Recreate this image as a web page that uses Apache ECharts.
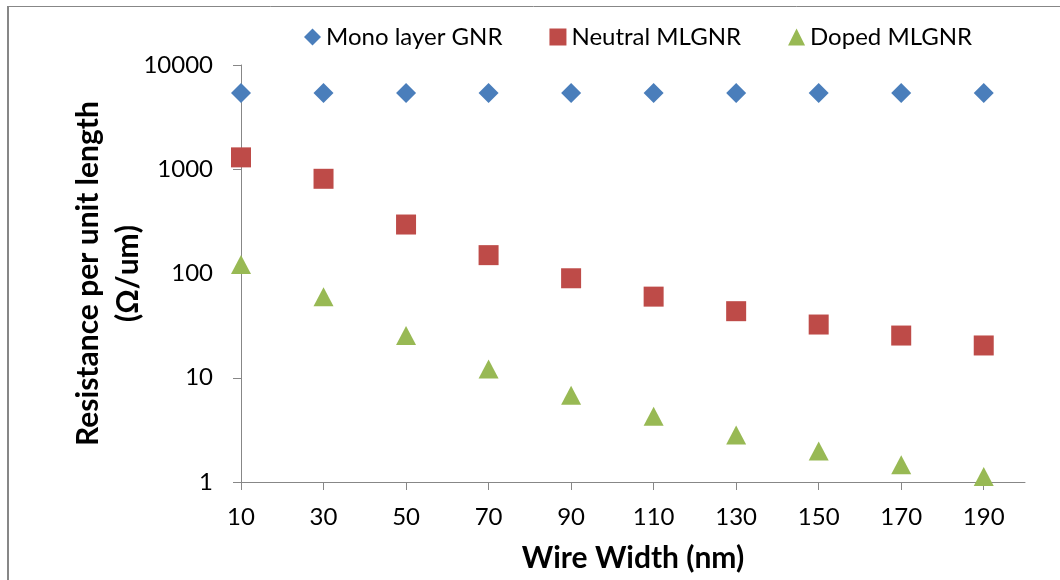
<!DOCTYPE html>
<html>
<head>
<meta charset="utf-8">
<script src="https://cdn.jsdelivr.net/npm/echarts@6/dist/echarts.min.js"></script>
<style>
  html, body { margin: 0; padding: 0; background: #fff; }
  #chart { width: 1060px; height: 580px; }
</style>
</head>
<body>
<div id="chart"></div>
<script>
// Wire widths (nm) and resistance per unit length (Ω/um) for each interconnect type
const widths = [10, 30, 50, 70, 90, 110, 130, 150, 170, 190];
const monoLayerGNR = [5400, 5400, 5400, 5400, 5400, 5400, 5400, 5400, 5400, 5400];
const neutralMLGNR = [1300, 810, 295, 150, 90, 60, 43.5, 32.4, 25.4, 20.4];
const dopedMLGNR = [122, 60, 25.4, 12.1, 6.8, 4.27, 2.82, 1.98, 1.46, 1.13];
const seriesNames = ['Mono layer GNR', 'Neutral MLGNR', 'Doped MLGNR'];
const xTitle = 'Wire Width (nm)';
const yTitle = 'Resistance per unit length\n(Ω/um)';

const FONT = 'Lato';
const AXIS_GREY = '#878787';

const pairs = (ys) => widths.map((w, i) => [w, ys[i]]);

const chart = echarts.init(document.getElementById('chart'), null, { renderer: 'canvas' });

chart.setOption({
  backgroundColor: '#ffffff',
  animation: false,
  textStyle: { fontFamily: FONT },
  graphic: [
    // frame edges along the top and left
    { type: 'line', shape: { x1: 7, y1: 6.5, x2: 1060, y2: 6.5 }, style: { stroke: AXIS_GREY, lineWidth: 1 } },
    { type: 'line', shape: { x1: 8, y1: 6, x2: 8, y2: 580 }, style: { stroke: AXIS_GREY, lineWidth: 2 } }
  ],
  legend: {
    top: 25,
    left: 304,
    padding: 0,
    itemWidth: 17,
    itemHeight: 17,
    itemGap: 47,
    textStyle: { fontFamily: FONT, fontSize: 24, color: '#000' },
    data: seriesNames
  },
  grid: { left: 241, right: 35, top: 65, bottom: 98, containLabel: false },
  xAxis: {
    type: 'value',
    min: 10,
    max: 200,
    name: xTitle,
    nameLocation: 'middle',
    nameGap: 61,
    nameMoveOverlap: false,
    nameTextStyle: { fontFamily: FONT, fontSize: 30, fontWeight: 'bold', color: '#000' },
    axisLine: { lineStyle: { color: AXIS_GREY, width: 1 } },
    axisTick: { show: true, inside: false, length: 8, lineStyle: { color: AXIS_GREY }, customValues: widths },
    axisLabel: { fontFamily: FONT, fontSize: 24, color: '#000', margin: 23, customValues: widths },
    splitLine: { show: false }
  },
  yAxis: {
    type: 'log',
    logBase: 10,
    min: 1,
    max: 10000,
    name: yTitle,
    nameLocation: 'middle',
    nameGap: 93,
    nameMoveOverlap: false,
    nameRotate: 90,
    nameTextStyle: { fontFamily: FONT, fontSize: 30, fontWeight: 'bold', color: '#000', lineHeight: 40 },
    axisLine: { show: true, lineStyle: { color: AXIS_GREY, width: 1 } },
    axisTick: { show: true, inside: false, length: 8, lineStyle: { color: AXIS_GREY } },
    axisLabel: { fontFamily: FONT, fontSize: 24, color: '#000', margin: 28, formatter: (v) => String(v) },
    splitLine: { show: false }
  },
  series: [
    {
      name: seriesNames[0],
      type: 'scatter',
      symbol: 'diamond',
      symbolSize: 20,
      itemStyle: { color: '#4A7EBB', opacity: 1 },
      data: pairs(monoLayerGNR)
    },
    {
      name: seriesNames[1],
      type: 'scatter',
      symbol: 'rect',
      symbolSize: 20,
      itemStyle: { color: '#BE4B48', opacity: 1 },
      data: pairs(neutralMLGNR)
    },
    {
      name: seriesNames[2],
      type: 'scatter',
      symbol: 'triangle',
      symbolSize: [20, 19],
      itemStyle: { color: '#98B954', opacity: 1 },
      data: pairs(dopedMLGNR)
    }
  ]
});
</script>
</body>
</html>
